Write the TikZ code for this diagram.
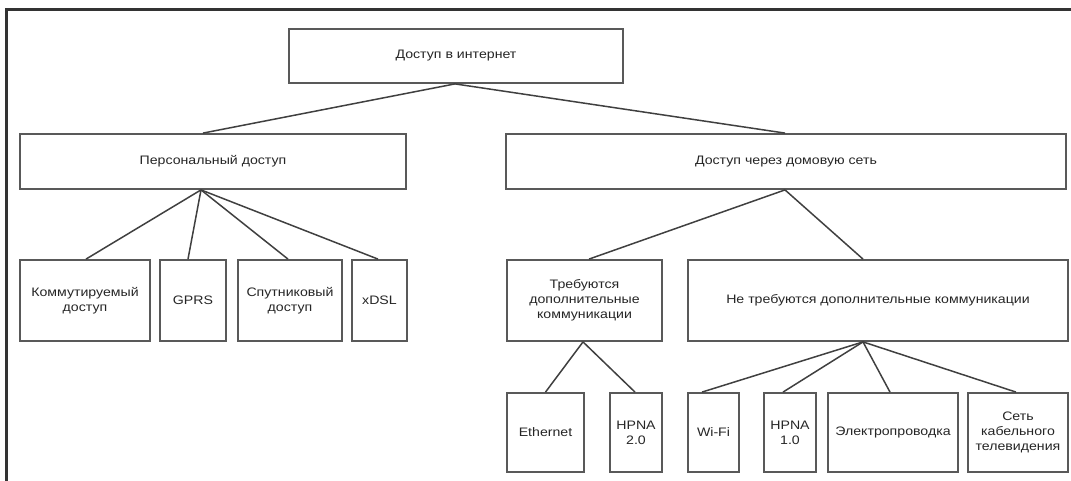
\documentclass[tikz,border=0pt]{standalone}
\usepackage{fontspec}
\setmainfont{Liberation Sans}[FakeStretch=1.15]
\begin{document}
\begin{tikzpicture}[x=1pt,y=1pt,
  box/.style={draw=black!65, line width=1.8pt, fill=white, rectangle, inner sep=0pt,
    align=center, text=black!85, font=\fontsize{12.3}{15}\selectfont},
  link/.style={draw=black!75, line width=1.5pt},
  frame/.style={draw=black!80, line width=3pt}]
\useasboundingbox (0,0) rectangle (1071,-481);
% outer frame (cut off at right and bottom)
\coordinate (fb) at (6,-485);
\coordinate (fc) at (6,-10);
\coordinate (fr) at (1075,-10);
\draw[frame] (fb) -- (fc) -- (fr);
% level 1
\node[box, minimum width=334pt, minimum height=54pt] (top) at (456,-56) {Доступ в интернет};
% level 2
\node[box, minimum width=386pt, minimum height=55pt] (pers) at (213,-161.5) {Персональный доступ};
\node[box, minimum width=560pt, minimum height=55pt] (dom) at (786,-161.5) {Доступ через домовую сеть};
% level 3
\node[box, minimum width=130pt, minimum height=81pt] (komm) at (85,-300.5) {Коммутируемый\\доступ};
\node[box, minimum width=66pt, minimum height=81pt] (gprs) at (193,-300.5) {GPRS};
\node[box, minimum width=104pt, minimum height=81pt] (sput) at (290,-300.5) {Спутниковый\\доступ};
\node[box, minimum width=55pt, minimum height=81pt] (xdsl) at (379.5,-300.5) {xDSL};
\node[box, minimum width=155pt, minimum height=81pt] (treb) at (584.5,-300.5) {Требуются\\дополнительные\\коммуникации};
\node[box, minimum width=380pt, minimum height=81pt] (netreb) at (878,-300.5) {Не требуются дополнительные коммуникации};
% level 4
\node[box, minimum width=77pt, minimum height=79pt] (eth) at (545.5,-432.5) {Ethernet};
\node[box, minimum width=52pt, minimum height=79pt] (hpnab) at (636,-432.5) {HPNA\\2.0};
\node[box, minimum width=51pt, minimum height=79pt] (wifi) at (713.5,-432.5) {Wi-Fi};
\node[box, minimum width=52pt, minimum height=79pt] (hpnaa) at (790,-432.5) {HPNA\\1.0};
\node[box, minimum width=130pt, minimum height=79pt] (elec) at (893,-432.5) {Электропроводка};
\node[box, minimum width=100pt, minimum height=79pt] (catv) at (1018,-432.5) {Сеть\\кабельного\\телевидения};
% connectors
\draw[link] ([xshift=-1pt]top.south) -- ([xshift=-10pt]pers.north);
\draw[link] ([xshift=-1pt]top.south) -- ([xshift=-1pt]dom.north);
\draw[link] ([xshift=-12pt]pers.south) -- ([xshift=1pt]komm.north);
\draw[link] ([xshift=-12pt]pers.south) -- ([xshift=-5pt]gprs.north);
\draw[link] ([xshift=-12pt]pers.south) -- ([xshift=-2pt]sput.north);
\draw[link] ([xshift=-12pt]pers.south) -- ([xshift=-1.5pt]xdsl.north);
\draw[link] ([xshift=-1pt]dom.south) -- ([xshift=4.5pt]treb.north);
\draw[link] ([xshift=-1pt]dom.south) -- ([xshift=-15pt]netreb.north);
\draw[link] ([xshift=-1.5pt]treb.south) -- (eth.north);
\draw[link] ([xshift=-1.5pt]treb.south) -- ([xshift=-1pt]hpnab.north);
\draw[link] ([xshift=-15pt]netreb.south) -- ([xshift=-11.5pt]wifi.north);
\draw[link] ([xshift=-15pt]netreb.south) -- ([xshift=-7pt]hpnaa.north);
\draw[link] ([xshift=-15pt]netreb.south) -- ([xshift=-3pt]elec.north);
\draw[link] ([xshift=-15pt]netreb.south) -- ([xshift=-2pt]catv.north);
\end{tikzpicture}
\end{document}
